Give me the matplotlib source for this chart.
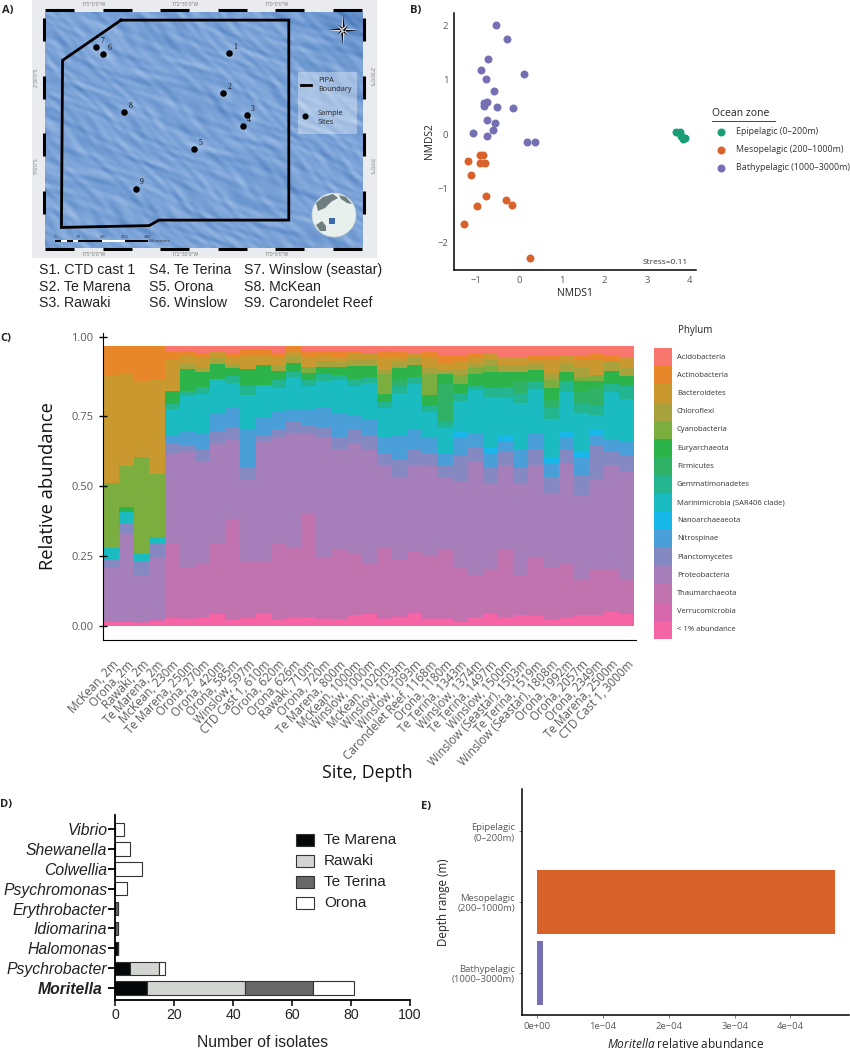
import matplotlib
matplotlib.use('Agg')
import matplotlib.pyplot as plt
import numpy as np
from matplotlib.colors import LinearSegmentedColormap
from matplotlib.patches import Circle, Polygon, Rectangle
from matplotlib.transforms import ScaledTranslation

W, H = 850, 1050
plt.rcParams['font.family'] = ['Open Sans', 'DejaVu Sans']
plt.rcParams['mathtext.fontset'] = 'custom'
plt.rcParams['mathtext.rm'] = 'Open Sans'
plt.rcParams['mathtext.it'] = 'Open Sans:italic'
GREY = '#5a5a5a'
ARIAL = ['Liberation Sans', 'DejaVu Sans']

# A) map
boundary_lon = [-174.25, -169.66, -169.66, -173.21, -173.48, -175.88, -175.85, -174.25]
boundary_lat = [-1.01, -1.01, -6.48, -6.48, -6.63, -6.68, -2.11, -1.01]
site_lon = [-171.30, -171.45, -170.81, -170.91, -172.25, -174.73, -174.93, -174.16, -173.84]
site_lat = [-1.92, -3.00, -3.60, -3.91, -4.53, -1.95, -1.74, -3.52, -5.62]
site_ids = ['1', '2', '3', '4', '5', '6', '7', '8', '9']
site_names = [['S1. CTD cast 1', 'S2. Te Marena', 'S3. Rawaki'],
              ['S4. Te Terina', 'S5. Orona', 'S6. Winslow'],
              ['S7. Winslow (seastar)', 'S8. McKean', 'S9. Carondelet Reef']]

# B) NMDS
epi_x = [3.68, 3.78, 3.80, 3.88, 3.83]
epi_y = [0.04, 0.04, -0.04, -0.06, -0.09]
meso_x = [-0.91, -0.83, -1.18, -0.91, -0.80, -1.12, -0.77, -0.31, -0.16, -0.97, -1.27, 0.27]
meso_y = [-0.39, -0.39, -0.50, -0.53, -0.53, -0.75, -1.14, -1.21, -1.31, -1.33, -1.65, -2.28]
bathy_x = [-0.53, -0.27, -0.71, -0.88, 0.12, -0.77, -0.57, -0.81, -0.75, -0.82, -0.52, -0.13, -0.74, -0.55, -0.60, -1.08, -0.75, 0.20, 0.38]
bathy_y = [2.01, 1.75, 1.38, 1.18, 1.11, 1.01, 0.79, 0.58, 0.60, 0.52, 0.51, 0.48, 0.26, 0.21, 0.08, 0.02, -0.03, -0.15, -0.15]
zone_labels = ['Epipelagic (0\u2013200m)', 'Mesopelagic (200\u20131000m)', 'Bathypelagic (1000\u20133000m)']
zone_colors = ['#1B9E77', '#D9622B', '#7570B3']

# C) samples and running totals, bottom band first
samples = ['McKean, 2m', 'Orona, 2m', 'Rawaki, 2m', 'Te Marena, 2m', 'McKean, 230m', 'Te Marena, 250m', 'Orona, 270m',
           'Orona, 420m', 'Orona, 585m', 'Winslow, 597m', 'CTD Cast 1, 610m', 'Orona, 620m', 'Orona, 626m',
           'Rawaki, 710m', 'Orona, 720m', 'Te Marena, 800m', 'McKean, 1000m', 'Winslow, 1000m', 'McKean, 1020m',
           'Winslow, 1033m', 'Winslow, 1093m', 'Carondelet Reef, 1168m', 'Orona, 1180m', 'Te Terina, 1343m',
           'Winslow, 1374m', 'Te Terina, 1497m', 'Winslow, 1500m', 'Winslow (Seastar), 1503m', 'Te Terina, 1519m',
           'Winslow (Seastar), 1808m', 'Orona, 1992m', 'Orona, 2057m', 'Orona, 2349m', 'Te Marena, 2500m',
           'CTD Cast 1, 3000m']
phyla = ['Acidobacteria', 'Actinobacteria', 'Bacteroidetes', 'Chloroflexi', 'Cyanobacteria', 'Euryarchaeota',
         'Firmicutes', 'Gemmatimonadetes', 'Marinimicrobia (SAR406 clade)', 'Nanoarchaeaeota', 'Nitrospinae',
         'Planctomycetes', 'Proteobacteria', 'Thaumarchaeota', 'Verrucomicrobia', '< 1% abundance']
phylum_colors = ['#F8766D', '#E8872A', '#C9982E', '#A8A23C', '#7CAE3F', '#2CB34A', '#2FB266', '#22B58F',
                 '#1ABBC1', '#19B8EA', '#4A9FD8', '#8489C2', '#A67FBA', '#C073AE', '#D767AC', '#F564A4']

top_low = [.015, .015, .012, .018, .030, .025, .027, .044, .021, .030, .045, .021, .027, .031, .025, .024, .039, .043,
           .025, .033, .048, .025, .025, .015, .031, .042, .031, .039, .037, .021, .027, .039, .039, .049, .043]
top_verruco = [.017, .017, .014, .020, .032, .027, .029, .046, .023, .032, .047, .023, .029, .033, .027, .026, .041, .045,
               .027, .035, .050, .027, .027, .017, .033, .044, .033, .041, .039, .023, .029, .041, .041, .051, .045]
top_thaum = [.017, .017, .014, .020, .295, .207, .224, .292, .381, .233, .227, .295, .281, .402, .248, .274, .257, .224,
             .283, .238, .269, .250, .276, .212, .181, .204, .275, .181, .248, .210, .221, .167, .204, .199, .164]
top_proteo = [.206, .331, .181, .248, .617, .621, .590, .652, .669, .525, .661, .670, .690, .685, .673, .632, .652, .629,
              .573, .533, .576, .571, .530, .515, .586, .510, .574, .512, .575, .475, .581, .468, .524, .574, .554]
top_plancto = [.236, .367, .231, .294, .649, .646, .629, .695, .712, .569, .683, .702, .727, .715, .710, .673, .701, .681,
               .614, .595, .629, .618, .575, .607, .638, .565, .624, .564, .632, .531, .629, .536, .644, .621, .612]
top_nitro = [.236, .367, .231, .294, .680, .692, .688, .760, .777, .700, .742, .765, .774, .776, .780, .760, .748, .738,
             .676, .681, .704, .673, .617, .673, .688, .618, .662, .630, .690, .581, .676, .599, .682, .668, .661]
top_nano = [.236, .367, .231, .294, .680, .692, .688, .760, .777, .700, .742, .765, .774, .776, .780, .760, .748, .738,
            .676, .681, .704, .673, .617, .692, .688, .636, .679, .630, .690, .600, .693, .624, .699, .668, .661]
top_marini = [.280, .406, .258, .317, .775, .821, .829, .881, .867, .825, .861, .851, .890, .857, .876, .879, .857, .867,
              .777, .831, .864, .765, .708, .804, .842, .818, .815, .796, .845, .739, .837, .760, .755, .836, .812]
top_gemma = [.280, .406, .258, .317, .793, .839, .855, .881, .894, .858, .861, .879, .905, .879, .899, .896, .881, .890,
             .801, .857, .888, .787, .730, .831, .858, .850, .852, .831, .873, .777, .873, .795, .786, .863, .857]
top_firm = [.280, .406, .258, .317, .793, .839, .855, .881, .894, .858, .861, .879, .905, .879, .899, .896, .881, .890,
            .801, .879, .888, .787, .864, .831, .858, .850, .852, .870, .873, .811, .873, .839, .852, .863, .857]
top_eury = [.280, .425, .258, .317, .838, .918, .905, .936, .920, .917, .932, .912, .938, .902, .926, .926, .929, .929,
            .830, .920, .932, .823, .899, .864, .899, .906, .908, .908, .914, .849, .908, .873, .876, .911, .894]
top_cyano = [.510, .571, .604, .543, .838, .918, .905, .936, .920, .917, .932, .912, .938, .924, .926, .926, .929, .929,
             .899, .920, .932, .899, .899, .896, .920, .929, .908, .908, .914, .879, .908, .890, .896, .911, .894]
top_chloro = [.510, .571, .604, .543, .838, .935, .926, .960, .938, .917, .932, .930, .964, .924, .946, .944, .952, .952,
              .914, .942, .960, .926, .917, .917, .940, .948, .929, .930, .940, .902, .938, .920, .896, .943, .926]
top_bacter = [.896, .899, .873, .879, .950, .964, .957, .980, .956, .964, .967, .956, .981, .956, .965, .960, .974, .974,
              .960, .960, .974, .957, .938, .946, .956, .971, .956, .962, .950, .950, .964, .950, .948, .943, .958]
top_actino = [1.0, 1.0, 1.0, 1.0, .977, .980, .976, .980, .974, .986, .986, .974, 1.0, .980, .982, .980, .980, .976,
              .980, .977, .974, .977, .968, .964, .971, .971, .956, .962, .967, .967, .964, .968, .971, .968, .958]
top_acido = [1.0, 1.0, 1.0, 1.0, 1.0, 1.0, 1.0, 1.0, 1.0, 1.0, 1.0, 1.0, 1.0, 1.0, 1.0, 1.0, 1.0, 1.0,
             1.0, 1.0, 1.0, 1.0, 1.0, 1.0, 1.0, 1.0, 1.0, 1.0, 1.0, 1.0, 1.0, 1.0, 1.0, 1.0, 1.0]
band_tops = [top_acido, top_actino, top_bacter, top_chloro, top_cyano, top_eury, top_firm, top_gemma, top_marini,
             top_nano, top_nitro, top_plancto, top_proteo, top_thaum, top_verruco, top_low]

# D) isolates
genera = ['Moritella', 'Psychrobacter', 'Halomonas', 'Idiomarina', 'Erythrobacter', 'Psychromonas', 'Colwellia', 'Shewanella', 'Vibrio']
te_marena = [11, 5, 1, 0, 0, 0, 0, 0, 0]
rawaki = [33, 10, 0, 0, 0, 0, 0, 0, 0]
te_terina = [23, 0, 0, 1, 1, 0, 0, 0, 0]
orona = [14, 2, 0, 0, 0, 4, 9, 5, 3]
site_series = ['Te Marena', 'Rawaki', 'Te Terina', 'Orona']
site_colors = ['#050808', '#D3D5D3', '#666766', '#FFFFFF']

# E) abundance
depth_labels = ['Bathypelagic\n(1000\u20133000m)', 'Mesopelagic\n(200\u20131000m)', 'Epipelagic\n(0\u2013200m)']
moritella_abund = [0.09e-4, 4.51e-4, 0.0]
depth_colors = ['#7570B3', '#D9622B', '#1B9E77']


def box(left, top, right, bottom):
    return [left / W, 1 - bottom / H, (right - left) / W, (bottom - top) / H]


fig = plt.figure(figsize=(W / 100, H / 100), dpi=100)

# page overlay in pixel coordinates for the map furniture and hand placed keys
page = fig.add_axes([0, 0, 1, 1], zorder=5)
page.set_xlim(0, W)
page.set_ylim(H, 0)
page.axis('off')
page.patch.set_alpha(0)
under = fig.add_axes([0, 0, 1, 1], zorder=0)
under.set_xlim(0, W)
under.set_ylim(H, 0)
under.axis('off')

# ---------- A ----------
under.add_patch(Rectangle((32, 0), 345, 258, color='#E9EBEE', lw=0))
ax = fig.add_axes(box(45, 12, 363, 248), zorder=1)
lon_min, lon_max, lat_min, lat_max = -176.33, -167.63, -7.243, -0.788
gx, gy = np.meshgrid(np.linspace(0, 1, 640), np.linspace(0, 1, 480))
# background texture only, stands in for the bathymetry raster
warp = 0.9 * np.sin(11 * gx + 7 * gy) + 0.7 * np.sin(5 * gx - 17 * gy + 1.3)
relief = np.zeros_like(gx)
for fx, fy, amp, ph in [(41, 67, 0.3, 0.3), (73, 87, 0.35, 1.1), (113, 61, 0.3, 2.1), (59, 137, 0.3, 0.7),
                        (163, 109, 0.25, 1.9), (101, 199, 0.2, 2.7), (211, 141, 0.15, 0.4), (19, 31, 0.25, 1.5)]:
    relief += amp * np.sin(fx * gx + fy * gy + ph + 2.2 * warp)
# image row 0 is the south edge here, gy grows northward
relief -= 1.4 * np.exp(-((gx - 0.97) ** 2 + (gy - 0.95) ** 2) / 0.012)
for lo, la in zip(site_lon, site_lat):
    u, v = (lo - lon_min) / (lon_max - lon_min), (la - lat_min) / (lat_max - lat_min)
    relief += 0.9 * np.exp(-((gx - u - 0.01) ** 2 + (gy - v) ** 2) / 0.0009)
sea = LinearSegmentedColormap.from_list('sea', ['#4C7CBC', '#7BA3D8', '#A9C5E9'])
ax.imshow(relief, origin='lower', extent=[lon_min, lon_max, lat_min, lat_max], cmap=sea, aspect='auto', vmin=-2.4, vmax=2.4, interpolation='bilinear')
ax.plot(boundary_lon, boundary_lat, color='black', lw=2.0, solid_joinstyle='miter')
ax.scatter(site_lon, site_lat, s=22, color='black', zorder=4, lw=0)
for lo, la, sid in zip(site_lon, site_lat, site_ids):
    ax.annotate(sid, (lo, la), xytext=(3, 3), textcoords='offset points', fontsize=5.5, family='Liberation Serif', color='#111111')
ax.set_xlim(lon_min, lon_max)
ax.set_ylim(lat_min, lat_max)
ax.axis('off')

# checker frame
for i in range(0, 6):
    a = 45 + i * 57.6
    b = min(a + 29, 363)
    for y0 in (10, 249):
        page.plot([a, b], [y0, y0], color='black', lw=2.2, solid_capstyle='butt')
for a in (18, 76, 133, 191):
    for x0 in (44, 364):
        page.plot([x0, x0], [a, a + 23], color='black', lw=2.2, solid_capstyle='butt')
for xp, s in zip((94, 185, 277), ("175\u00b00'0\"W", "172\u00b030'0\"W", "170\u00b00'0\"W")):
    page.text(xp, 4, s, fontsize=3.6, color='#777777', ha='center', va='center')
    page.text(xp, 255, s, fontsize=3.6, color='#777777', ha='center', va='center')
for yp, s in zip((77, 166), ("2\u00b030'0\"S", "5\u00b00'0\"S")):
    page.text(36, yp, s, fontsize=3.6, color='#777777', rotation=90, ha='center', va='center')
    page.text(371, yp, s, fontsize=3.6, color='#777777', rotation=270, ha='center', va='center')

# map key
page.add_patch(Rectangle((298, 72), 59, 62, color='white', alpha=0.35, lw=0))
page.plot([301, 311], [85, 85], color='black', lw=2)
page.text(318, 85, 'PIPA\nBoundary', fontsize=5.3, va='center', color='#222222', linespacing=1.45)
page.scatter([305], [116], s=20, color='black', lw=0)
page.text(318, 118, 'Sample\nSites', fontsize=5.3, va='center', color='#222222', linespacing=1.45)

# compass
cx, cy = 343, 30
for ang, r in [(0, 15), (90, 15), (180, 15), (270, 15), (45, 8), (135, 8), (225, 8), (315, 8)]:
    t = np.radians(ang)
    tip = (cx + r * np.cos(t), cy + r * np.sin(t))
    s1 = (cx + 2 * np.cos(t + np.pi / 2), cy + 2 * np.sin(t + np.pi / 2))
    s2 = (cx + 2 * np.cos(t - np.pi / 2), cy + 2 * np.sin(t - np.pi / 2))
    page.add_patch(Polygon([tip, s1, (cx, cy)], color='black', lw=0))
    page.add_patch(Polygon([tip, s2, (cx, cy)], color='#dddddd', lw=0))

# globe
page.add_patch(Circle((334, 215), 22, facecolor='#E8F0EE', edgecolor='#C9D2D2', lw=0.5))
page.add_patch(Polygon([(316, 203), (323, 197), (333, 194), (338, 198), (331, 202), (325, 208), (318, 211)], color='#6F7F80', lw=0))
page.add_patch(Polygon([(339, 195), (346, 197), (352, 204), (347, 203), (341, 199)], color='#6F7F80', lw=0))
page.add_patch(Polygon([(316, 225), (322, 221), (326, 226), (326, 231), (320, 231)], color='#6F7F80', lw=0))
page.add_patch(Rectangle((329, 218), 6, 6, color='#3E68B0', lw=0))

# scale bar
for a, b, c in [(55, 61, 'black'), (61, 67, 'white'), (67, 73, 'black'), (73, 78, 'white'), (78, 102, 'black'), (102, 125, 'white'), (125, 148, 'black')]:
    page.add_patch(Rectangle((a, 239.5), b - a, 2.5, color=c, lw=0))
for xp, s in zip((55, 78, 102, 125, 148), ('0', '70', '140', '210', '280')):
    page.text(xp, 236.5, s, fontsize=3.2, ha='center', va='center', color='#333333')
page.text(149, 241, 'Kilometers', fontsize=3.2, va='center', color='#333333')

for col_x, names in zip((39, 149, 244), site_names):
    for row_y, name in zip((270, 287, 303), names):
        page.text(col_x, row_y, name, fontsize=10.2, family=ARIAL, color='#222222', va='center')

# ---------- B ----------
ax = fig.add_axes(box(454, 13, 696, 270), zorder=2)
ax.patch.set_alpha(0)
ax.scatter(epi_x, epi_y, s=33, color=zone_colors[0], lw=0, clip_on=False)
ax.scatter(meso_x, meso_y, s=33, color=zone_colors[1], lw=0)
ax.scatter(bathy_x, bathy_y, s=33, color=zone_colors[2], lw=0)
ax.set_xlim(-1.515, 4.145)
ax.set_ylim(-2.5, 2.234)
ax.set_xticks([-1, 0, 1, 2, 3, 4], labels=['\u22121', '0', '1', '2', '3', '4'])
ax.set_yticks([-2, -1, 0, 1, 2], labels=['\u22122', '\u22121', '0', '1', '2'])
ax.tick_params(length=0, labelsize=6.8, labelcolor=GREY, pad=4)
ax.set_xlabel('NMDS1', fontsize=7.4, color='#222222', labelpad=2.5)
ax.set_ylabel('NMDS2', fontsize=7.4, color='#222222', labelpad=2)
for side in ('top', 'right'):
    ax.spines[side].set_visible(False)
for side in ('left', 'bottom'):
    ax.spines[side].set_linewidth(1.1)
ax.text(3.96, -2.36, 'Stress=0.11', fontsize=6, ha='right', va='center', color='#333333')

page.text(712, 113, 'Ocean zone', fontsize=7.5, va='center', color='#222222')
page.plot([712, 775], [120.5, 120.5], color='#444444', lw=0.7)
for row_y, label, c in zip((132, 150, 168), zone_labels, zone_colors):
    page.scatter([721], [row_y], s=33, color=c, lw=0)
    page.text(735.7, row_y, label, fontsize=6.4, va='center', color='#333333')

# ---------- C ----------
ax = fig.add_axes(box(103, 333, 636, 640), zorder=2)
ax.patch.set_alpha(0)
x = np.arange(len(samples))
for i, (tops, c) in enumerate(zip(band_tops, phylum_colors)):
    below = band_tops[i + 1] if i + 1 < len(band_tops) else np.zeros(len(samples))
    ax.bar(x, np.array(tops) - np.array(below), bottom=below, width=1.0, color=c, lw=0, antialiased=False)
ax.set_xlim(-0.566, 34.6)
ax.set_ylim(-0.05, 1.046)
ax.set_yticks([0, 0.25, 0.5, 0.75, 1.03], labels=['0.00', '0.25', '0.50', '0.75', '1.00'])
ax.set_xticks(x)
ax.set_xticklabels(samples, rotation=47, ha='right', va='top', rotation_mode='anchor', fontsize=8.4, color=GREY)
for lab in ax.get_xticklabels():
    lab.set_transform(lab.get_transform() + ScaledTranslation(-5 / 72, 0, fig.dpi_scale_trans))
ax.tick_params(axis='x', length=0, pad=13)
ax.tick_params(axis='y', direction='inout', length=6, width=1, labelsize=8, labelcolor=GREY, pad=4)
for side in ('top', 'right'):
    ax.spines[side].set_visible(False)
ax.set_ylabel('Relative abundance', fontsize=13.2, color='#111111', labelpad=10)
ax.set_xlabel('Site, Depth', fontsize=12.8, color='#111111')
ax.xaxis.set_label_coords(0.495, -0.404)

page.text(678, 330, 'Phylum', fontsize=7, va='center', color='#222222')
leg = fig.add_axes(box(653.5, 348, 672, 639), zorder=2)
leg.bar(np.zeros(len(phyla)), np.ones(len(phyla)), bottom=np.arange(len(phyla))[::-1], width=1, color=phylum_colors, lw=0, align='center')
leg.set_xlim(-0.5, 0.5)
leg.set_ylim(0, len(phyla))
leg.axis('off')
for i, name in enumerate(phyla):
    page.text(677, 348 + (i + 0.5) * 18.19, name, fontsize=5.5, va='center', color='#333333')

# ---------- D ----------
ax = fig.add_axes(box(115, 815, 410, 1000), zorder=2)
ax.patch.set_alpha(0)
y = np.arange(len(genera))
left = np.zeros(len(genera))
for vals, c, name in zip([te_marena, rawaki, te_terina, orona], site_colors, site_series):
    ax.barh(y, vals, left=left, height=0.67, color=c, edgecolor='#333333', lw=0.8, label=name)
    left = left + np.array(vals)
ax.set_xlim(0, 100)
ax.set_ylim(-0.605, 8.72)
ax.set_yticks(y, labels=genera)
ax.set_xticks([0, 20, 40, 60, 80, 100])
ax.tick_params(axis='y', length=5, width=1.3, labelsize=11.3, pad=0.5)
ax.tick_params(axis='x', length=4, width=1.1, labelsize=10.2, pad=2)
for lab in ax.get_yticklabels():
    lab.set_family(ARIAL)
    lab.set_style('italic')
    lab.set_color('#222222')
moritella_lab = ax.get_yticklabels()[0]
moritella_lab.set_weight('bold')
moritella_lab.set_transform(moritella_lab.get_transform() + ScaledTranslation(-3.2 / 72, 0, fig.dpi_scale_trans))
for lab in ax.get_xticklabels():
    lab.set_family(ARIAL)
    lab.set_color('#222222')
for side in ('top', 'right'):
    ax.spines[side].set_visible(False)
for side in ('left', 'bottom'):
    ax.spines[side].set_linewidth(1.3)
ax.set_xlabel('Number of isolates', fontsize=11.3, family=ARIAL, color='#222222', labelpad=9)
for row_y, name, c in zip((840, 861, 882, 903), site_series, site_colors):
    page.add_patch(Rectangle((296, row_y - 5.6), 18, 11.2, facecolor=c, edgecolor='#333333', lw=0.8))
    page.text(324, row_y, name, fontsize=11, family=ARIAL, va='center', color='#222222')

# ---------- E ----------
ax = fig.add_axes(box(521.7, 789, 849, 1015), zorder=2)
ax.patch.set_alpha(0)
ax.barh([0, 1, 2], moritella_abund, height=0.9, color=depth_colors, lw=0)
ax.set_xlim(-0.2266e-4, 4.718e-4)
ax.set_ylim(-0.596, 2.596)
ax.set_yticks([0, 1, 2], labels=depth_labels)
ax.set_xticks([0, 1e-4, 2e-4, 3e-4, 3.83e-4], labels=['0e+00', '1e\u221204', '2e\u221204', '3e\u221204', '4e\u221204'])
ax.tick_params(length=2, width=0.6, color='#666666', labelsize=6.8, labelcolor=GREY, pad=3)
for lab in ax.get_yticklabels():
    lab.set_linespacing(1.2)
for side in ('top', 'right'):
    ax.spines[side].set_visible(False)
for side in ('left', 'bottom'):
    ax.spines[side].set_linewidth(1.1)
ax.set_xlabel('$\\mathit{Moritella}$ relative abundance', fontsize=8.6, color='#222222', labelpad=4.5)
ax.set_ylabel('Depth range (m)', fontsize=8.3, color='#222222', labelpad=1)

# panel letters
for s, xp, yp in [('A)', 2, 10), ('B)', 410, 10), ('C)', 0, 338), ('D)', 0, 804), ('E)', 421, 806)]:
    page.text(xp, yp, s, fontsize=8, weight='bold', va='center', color='#222222')

fig.savefig('out.png', dpi=100)
